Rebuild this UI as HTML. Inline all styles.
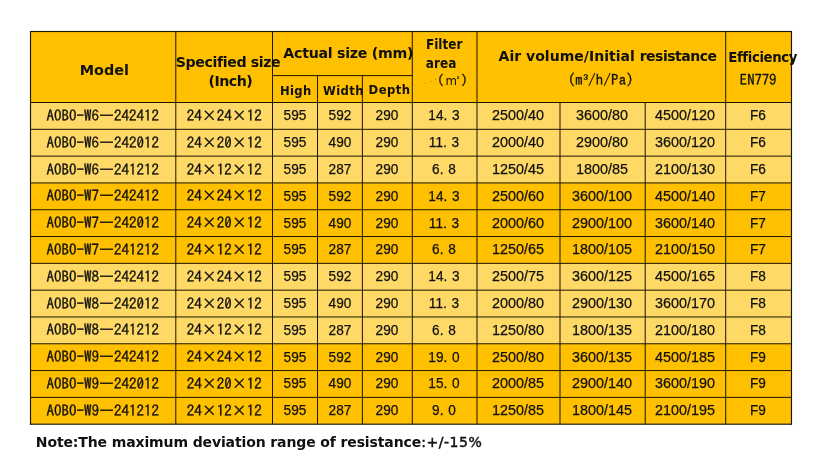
<!DOCTYPE html>
<html lang="en">
<head>
<meta charset="utf-8">
<title>Filter specification table</title>
<style>
html,body{margin:0;padding:0;background:#fff;}
body{width:821px;height:456px;position:relative;overflow:hidden;font-family:"Liberation Sans",sans-serif;color:#101010;}
svg{position:absolute;left:0;top:0;}
#txt{position:absolute;left:0;top:0;width:821px;height:456px;will-change:transform;}
.t{position:absolute;white-space:nowrap;line-height:16px;height:16px;}
.hb{font:bold 14px/16px "DejaVu Sans","Liberation Sans",sans-serif;}
.hs{font:bold 12.9px/16px "DejaVu Sans Condensed","Liberation Sans",sans-serif;}
.hf{font:bold 13.4px/16px "DejaVu Sans Condensed","Liberation Sans",sans-serif;}
.cj{font:14.67px/16px "IPAGothic","Liberation Mono","Noto Sans CJK SC",monospace;-webkit-text-stroke:0.3px #101010;}
.cjp{font:13.4px/16px "IPAGothic","Liberation Mono","Noto Sans CJK SC",monospace;-webkit-text-stroke:0.3px #101010;}
.mono{font:15px/16px "IPAGothic","Liberation Mono","Noto Sans CJK SC",monospace;-webkit-text-stroke:0.3px #101010;}
.num{font:14.6px/16px "Liberation Sans","Noto Sans CJK SC",sans-serif;-webkit-text-stroke:0.25px #101010;transform:scaleX(0.935);}
.grp span{position:absolute;white-space:nowrap;}
.m{font:11.8px/16px "DejaVu Sans","Liberation Sans",sans-serif;}
.sup2{font:bold 8px/16px "Liberation Sans",sans-serif;}
.he{font:bold 13.3px/16px "DejaVu Sans","Liberation Sans",sans-serif;letter-spacing:-0.4px;}
.gap3{display:inline-block;position:relative;width:5.6px;height:16px;vertical-align:top;}
.sup3{position:absolute;left:0.8px;top:-0.2px;font:13.5px/16px "Liberation Sans",sans-serif;-webkit-text-stroke:0.3px #101010;}
.nt{font-weight:normal;letter-spacing:0.5px;-webkit-text-stroke:0.45px #101010;margin-left:0.3px;}
</style>
</head>
<body>
<svg width="821" height="456" viewBox="0 0 821 456">
<rect x="30.5" y="31.5" width="761.0" height="392.7" fill="#FFC000"/>
<rect x="30.5" y="102.50" width="761.0" height="26.81" fill="#FFD966"/>
<rect x="30.5" y="129.31" width="761.0" height="26.81" fill="#FFD966"/>
<rect x="30.5" y="156.12" width="761.0" height="26.81" fill="#FFD966"/>
<rect x="30.5" y="263.35" width="761.0" height="26.81" fill="#FFD966"/>
<rect x="30.5" y="290.16" width="761.0" height="26.81" fill="#FFD966"/>
<rect x="30.5" y="316.97" width="761.0" height="26.81" fill="#FFD966"/>
<rect x="30.00" y="30.93" width="762.00" height="1.15" fill="#1c1606"/>
<rect x="272.50" y="75.10" width="139.80" height="1.0" fill="#1c1606"/>
<rect x="30.50" y="102.00" width="761.00" height="1.0" fill="#1c1606"/>
<rect x="30.50" y="128.81" width="761.00" height="1.0" fill="#1c1606"/>
<rect x="30.50" y="155.62" width="761.00" height="1.0" fill="#1c1606"/>
<rect x="30.50" y="182.43" width="761.00" height="1.0" fill="#1c1606"/>
<rect x="30.50" y="209.23" width="761.00" height="1.0" fill="#1c1606"/>
<rect x="30.50" y="236.04" width="761.00" height="1.0" fill="#1c1606"/>
<rect x="30.50" y="262.85" width="761.00" height="1.0" fill="#1c1606"/>
<rect x="30.50" y="289.66" width="761.00" height="1.0" fill="#1c1606"/>
<rect x="30.50" y="316.47" width="761.00" height="1.0" fill="#1c1606"/>
<rect x="30.50" y="343.27" width="761.00" height="1.0" fill="#1c1606"/>
<rect x="30.50" y="370.08" width="761.00" height="1.0" fill="#1c1606"/>
<rect x="30.50" y="396.89" width="761.00" height="1.0" fill="#1c1606"/>
<rect x="30.00" y="423.62" width="762.00" height="1.15" fill="#1c1606"/>
<rect x="29.93" y="31.00" width="1.15" height="393.70" fill="#1c1606"/>
<rect x="175.30" y="31.50" width="1.0" height="392.70" fill="#1c1606"/>
<rect x="272.00" y="31.50" width="1.0" height="392.70" fill="#1c1606"/>
<rect x="317.00" y="75.60" width="1.0" height="348.60" fill="#1c1606"/>
<rect x="361.90" y="75.60" width="1.0" height="348.60" fill="#1c1606"/>
<rect x="411.80" y="31.50" width="1.0" height="392.70" fill="#1c1606"/>
<rect x="476.50" y="31.50" width="1.0" height="392.70" fill="#1c1606"/>
<rect x="559.50" y="102.50" width="1.0" height="321.70" fill="#1c1606"/>
<rect x="644.70" y="102.50" width="1.0" height="321.70" fill="#1c1606"/>
<rect x="725.20" y="31.50" width="1.0" height="392.70" fill="#1c1606"/>
<rect x="790.92" y="31.00" width="1.15" height="393.70" fill="#1c1606"/>
<circle cx="425.0" cy="83.0" r="0.6" fill="#5a4300" fill-opacity="0.55"/>
<circle cx="430.5" cy="81.5" r="0.6" fill="#5a4300" fill-opacity="0.55"/>
<circle cx="435.6" cy="79.3" r="0.6" fill="#5a4300" fill-opacity="0.55"/>
</svg>
<div id="txt">
<div class="t hb" style="left:79.80px;top:61.50px;font-size:14.4px;">Model</div>
<div class="t hb" style="left:175.70px;top:54.00px;font-size:14.2px;letter-spacing:-0.4px;">Specified size</div>
<div class="t hb" style="left:208.50px;top:73.20px;font-size:14.2px;letter-spacing:-0.52px;">(Inch)</div>
<div class="t hb" style="left:283.30px;top:45.00px;font-size:14.2px;letter-spacing:-0.28px;">Actual size (mm)</div>
<div class="t hs" style="left:280.00px;top:82.90px;letter-spacing:0.3px;">High</div>
<div class="t hs" style="left:323.00px;top:82.90px;letter-spacing:0.4px;">Width</div>
<div class="t hs" style="left:368.60px;top:82.20px;letter-spacing:0.45px;">Depth</div>
<div class="t hf" style="left:426.00px;top:36.80px;">Filter</div>
<div class="t hf" style="left:425.80px;top:55.50px;letter-spacing:0.1px;">area</div>
<div class="t grp" style="left:430.50px;top:71.50px;"><span class="cjp" style="left:0;top:0.2px">（</span><span class="m" style="left:15px;top:1.4px">m</span><span class="sup2" style="left:26.2px;top:0.8px">²</span><span class="cjp" style="left:30.5px;top:0.2px">）</span></div>
<div class="t hb" style="left:498.60px;top:48.10px;letter-spacing:0.02px;">Air volume/Initial <span style="letter-spacing:-0.49px">resistance</span></div>
<div class="t cj" style="left:560.60px;top:71.50px;">（m<span class="gap3"><span class="sup3">³</span></span><span style="letter-spacing:0.3px">/h/Pa</span>）</div>
<div class="t he" style="left:728.30px;top:50.20px;">Efficiency</div>
<div class="t cj" style="left:739.80px;top:71.80px;">EN779</div>
<div class="t mono" style="left:-47.35px;width:300px;text-align:center;top:108.00px;">AOBO-W6—242412</div>
<div class="t mono" style="left:74.15px;width:300px;text-align:center;top:108.00px;">24×24×12</div>
<div class="t num" style="left:145.00px;width:300px;text-align:center;top:107.30px;">595</div>
<div class="t num" style="left:189.95px;width:300px;text-align:center;top:107.30px;">592</div>
<div class="t num" style="left:237.35px;width:300px;text-align:center;top:107.30px;">290</div>
<div class="t num" style="left:293.95px;width:300px;text-align:center;top:107.30px;word-spacing:1.1px;">14. 3</div>
<div class="t num" style="left:367.60px;width:300px;text-align:center;top:107.30px;transform:scaleX(0.985);">2500/40</div>
<div class="t num" style="left:451.70px;width:300px;text-align:center;top:107.30px;transform:scaleX(0.985);">3600/80</div>
<div class="t num" style="left:535.05px;width:300px;text-align:center;top:107.30px;transform:scaleX(0.985);">4500/120</div>
<div class="t num" style="left:608.10px;width:300px;text-align:center;top:107.30px;">F6</div>
<div class="t mono" style="left:-47.35px;width:300px;text-align:center;top:134.81px;">AOBO-W6—242012</div>
<div class="t mono" style="left:74.15px;width:300px;text-align:center;top:134.81px;">24×20×12</div>
<div class="t num" style="left:145.00px;width:300px;text-align:center;top:134.11px;">595</div>
<div class="t num" style="left:189.95px;width:300px;text-align:center;top:134.11px;">490</div>
<div class="t num" style="left:237.35px;width:300px;text-align:center;top:134.11px;">290</div>
<div class="t num" style="left:293.95px;width:300px;text-align:center;top:134.11px;word-spacing:1.1px;">11. 3</div>
<div class="t num" style="left:367.60px;width:300px;text-align:center;top:134.11px;transform:scaleX(0.985);">2000/40</div>
<div class="t num" style="left:451.70px;width:300px;text-align:center;top:134.11px;transform:scaleX(0.985);">2900/80</div>
<div class="t num" style="left:535.05px;width:300px;text-align:center;top:134.11px;transform:scaleX(0.985);">3600/120</div>
<div class="t num" style="left:608.10px;width:300px;text-align:center;top:134.11px;">F6</div>
<div class="t mono" style="left:-47.35px;width:300px;text-align:center;top:161.62px;">AOBO-W6—241212</div>
<div class="t mono" style="left:74.15px;width:300px;text-align:center;top:161.62px;">24×12×12</div>
<div class="t num" style="left:145.00px;width:300px;text-align:center;top:160.92px;">595</div>
<div class="t num" style="left:189.95px;width:300px;text-align:center;top:160.92px;">287</div>
<div class="t num" style="left:237.35px;width:300px;text-align:center;top:160.92px;">290</div>
<div class="t num" style="left:293.95px;width:300px;text-align:center;top:160.92px;word-spacing:1.1px;">6. 8</div>
<div class="t num" style="left:367.60px;width:300px;text-align:center;top:160.92px;transform:scaleX(0.985);">1250/45</div>
<div class="t num" style="left:451.70px;width:300px;text-align:center;top:160.92px;transform:scaleX(0.985);">1800/85</div>
<div class="t num" style="left:535.05px;width:300px;text-align:center;top:160.92px;transform:scaleX(0.985);">2100/130</div>
<div class="t num" style="left:608.10px;width:300px;text-align:center;top:160.92px;">F6</div>
<div class="t mono" style="left:-47.35px;width:300px;text-align:center;top:188.43px;">AOBO-W7—242412</div>
<div class="t mono" style="left:74.15px;width:300px;text-align:center;top:188.43px;">24×24×12</div>
<div class="t num" style="left:145.00px;width:300px;text-align:center;top:187.73px;">595</div>
<div class="t num" style="left:189.95px;width:300px;text-align:center;top:187.73px;">592</div>
<div class="t num" style="left:237.35px;width:300px;text-align:center;top:187.73px;">290</div>
<div class="t num" style="left:293.95px;width:300px;text-align:center;top:187.73px;word-spacing:1.1px;">14. 3</div>
<div class="t num" style="left:367.60px;width:300px;text-align:center;top:187.73px;transform:scaleX(0.985);">2500/60</div>
<div class="t num" style="left:451.70px;width:300px;text-align:center;top:187.73px;transform:scaleX(0.985);">3600/100</div>
<div class="t num" style="left:535.05px;width:300px;text-align:center;top:187.73px;transform:scaleX(0.985);">4500/140</div>
<div class="t num" style="left:608.10px;width:300px;text-align:center;top:187.73px;">F7</div>
<div class="t mono" style="left:-47.35px;width:300px;text-align:center;top:215.24px;">AOBO-W7—242012</div>
<div class="t mono" style="left:74.15px;width:300px;text-align:center;top:215.24px;">24×20×12</div>
<div class="t num" style="left:145.00px;width:300px;text-align:center;top:214.54px;">595</div>
<div class="t num" style="left:189.95px;width:300px;text-align:center;top:214.54px;">490</div>
<div class="t num" style="left:237.35px;width:300px;text-align:center;top:214.54px;">290</div>
<div class="t num" style="left:293.95px;width:300px;text-align:center;top:214.54px;word-spacing:1.1px;">11. 3</div>
<div class="t num" style="left:367.60px;width:300px;text-align:center;top:214.54px;transform:scaleX(0.985);">2000/60</div>
<div class="t num" style="left:451.70px;width:300px;text-align:center;top:214.54px;transform:scaleX(0.985);">2900/100</div>
<div class="t num" style="left:535.05px;width:300px;text-align:center;top:214.54px;transform:scaleX(0.985);">3600/140</div>
<div class="t num" style="left:608.10px;width:300px;text-align:center;top:214.54px;">F7</div>
<div class="t mono" style="left:-47.35px;width:300px;text-align:center;top:242.05px;">AOBO-W7—241212</div>
<div class="t mono" style="left:74.15px;width:300px;text-align:center;top:242.05px;">24×12×12</div>
<div class="t num" style="left:145.00px;width:300px;text-align:center;top:241.35px;">595</div>
<div class="t num" style="left:189.95px;width:300px;text-align:center;top:241.35px;">287</div>
<div class="t num" style="left:237.35px;width:300px;text-align:center;top:241.35px;">290</div>
<div class="t num" style="left:293.95px;width:300px;text-align:center;top:241.35px;word-spacing:1.1px;">6. 8</div>
<div class="t num" style="left:367.60px;width:300px;text-align:center;top:241.35px;transform:scaleX(0.985);">1250/65</div>
<div class="t num" style="left:451.70px;width:300px;text-align:center;top:241.35px;transform:scaleX(0.985);">1800/105</div>
<div class="t num" style="left:535.05px;width:300px;text-align:center;top:241.35px;transform:scaleX(0.985);">2100/150</div>
<div class="t num" style="left:608.10px;width:300px;text-align:center;top:241.35px;">F7</div>
<div class="t mono" style="left:-47.35px;width:300px;text-align:center;top:268.85px;">AOBO-W8—242412</div>
<div class="t mono" style="left:74.15px;width:300px;text-align:center;top:268.85px;">24×24×12</div>
<div class="t num" style="left:145.00px;width:300px;text-align:center;top:268.15px;">595</div>
<div class="t num" style="left:189.95px;width:300px;text-align:center;top:268.15px;">592</div>
<div class="t num" style="left:237.35px;width:300px;text-align:center;top:268.15px;">290</div>
<div class="t num" style="left:293.95px;width:300px;text-align:center;top:268.15px;word-spacing:1.1px;">14. 3</div>
<div class="t num" style="left:367.60px;width:300px;text-align:center;top:268.15px;transform:scaleX(0.985);">2500/75</div>
<div class="t num" style="left:451.70px;width:300px;text-align:center;top:268.15px;transform:scaleX(0.985);">3600/125</div>
<div class="t num" style="left:535.05px;width:300px;text-align:center;top:268.15px;transform:scaleX(0.985);">4500/165</div>
<div class="t num" style="left:608.10px;width:300px;text-align:center;top:268.15px;">F8</div>
<div class="t mono" style="left:-47.35px;width:300px;text-align:center;top:295.66px;">AOBO-W8—242012</div>
<div class="t mono" style="left:74.15px;width:300px;text-align:center;top:295.66px;">24×20×12</div>
<div class="t num" style="left:145.00px;width:300px;text-align:center;top:294.96px;">595</div>
<div class="t num" style="left:189.95px;width:300px;text-align:center;top:294.96px;">490</div>
<div class="t num" style="left:237.35px;width:300px;text-align:center;top:294.96px;">290</div>
<div class="t num" style="left:293.95px;width:300px;text-align:center;top:294.96px;word-spacing:1.1px;">11. 3</div>
<div class="t num" style="left:367.60px;width:300px;text-align:center;top:294.96px;transform:scaleX(0.985);">2000/80</div>
<div class="t num" style="left:451.70px;width:300px;text-align:center;top:294.96px;transform:scaleX(0.985);">2900/130</div>
<div class="t num" style="left:535.05px;width:300px;text-align:center;top:294.96px;transform:scaleX(0.985);">3600/170</div>
<div class="t num" style="left:608.10px;width:300px;text-align:center;top:294.96px;">F8</div>
<div class="t mono" style="left:-47.35px;width:300px;text-align:center;top:322.47px;">AOBO-W8—241212</div>
<div class="t mono" style="left:74.15px;width:300px;text-align:center;top:322.47px;">24×12×12</div>
<div class="t num" style="left:145.00px;width:300px;text-align:center;top:321.77px;">595</div>
<div class="t num" style="left:189.95px;width:300px;text-align:center;top:321.77px;">287</div>
<div class="t num" style="left:237.35px;width:300px;text-align:center;top:321.77px;">290</div>
<div class="t num" style="left:293.95px;width:300px;text-align:center;top:321.77px;word-spacing:1.1px;">6. 8</div>
<div class="t num" style="left:367.60px;width:300px;text-align:center;top:321.77px;transform:scaleX(0.985);">1250/80</div>
<div class="t num" style="left:451.70px;width:300px;text-align:center;top:321.77px;transform:scaleX(0.985);">1800/135</div>
<div class="t num" style="left:535.05px;width:300px;text-align:center;top:321.77px;transform:scaleX(0.985);">2100/180</div>
<div class="t num" style="left:608.10px;width:300px;text-align:center;top:321.77px;">F8</div>
<div class="t mono" style="left:-47.35px;width:300px;text-align:center;top:349.28px;">AOBO-W9—242412</div>
<div class="t mono" style="left:74.15px;width:300px;text-align:center;top:349.28px;">24×24×12</div>
<div class="t num" style="left:145.00px;width:300px;text-align:center;top:348.58px;">595</div>
<div class="t num" style="left:189.95px;width:300px;text-align:center;top:348.58px;">592</div>
<div class="t num" style="left:237.35px;width:300px;text-align:center;top:348.58px;">290</div>
<div class="t num" style="left:293.95px;width:300px;text-align:center;top:348.58px;word-spacing:1.1px;">19. 0</div>
<div class="t num" style="left:367.60px;width:300px;text-align:center;top:348.58px;transform:scaleX(0.985);">2500/80</div>
<div class="t num" style="left:451.70px;width:300px;text-align:center;top:348.58px;transform:scaleX(0.985);">3600/135</div>
<div class="t num" style="left:535.05px;width:300px;text-align:center;top:348.58px;transform:scaleX(0.985);">4500/185</div>
<div class="t num" style="left:608.10px;width:300px;text-align:center;top:348.58px;">F9</div>
<div class="t mono" style="left:-47.35px;width:300px;text-align:center;top:376.09px;">AOBO-W9—242012</div>
<div class="t mono" style="left:74.15px;width:300px;text-align:center;top:376.09px;">24×20×12</div>
<div class="t num" style="left:145.00px;width:300px;text-align:center;top:375.39px;">595</div>
<div class="t num" style="left:189.95px;width:300px;text-align:center;top:375.39px;">490</div>
<div class="t num" style="left:237.35px;width:300px;text-align:center;top:375.39px;">290</div>
<div class="t num" style="left:293.95px;width:300px;text-align:center;top:375.39px;word-spacing:1.1px;">15. 0</div>
<div class="t num" style="left:367.60px;width:300px;text-align:center;top:375.39px;transform:scaleX(0.985);">2000/85</div>
<div class="t num" style="left:451.70px;width:300px;text-align:center;top:375.39px;transform:scaleX(0.985);">2900/140</div>
<div class="t num" style="left:535.05px;width:300px;text-align:center;top:375.39px;transform:scaleX(0.985);">3600/190</div>
<div class="t num" style="left:608.10px;width:300px;text-align:center;top:375.39px;">F9</div>
<div class="t mono" style="left:-47.35px;width:300px;text-align:center;top:402.90px;">AOBO-W9—241212</div>
<div class="t mono" style="left:74.15px;width:300px;text-align:center;top:402.90px;">24×12×12</div>
<div class="t num" style="left:145.00px;width:300px;text-align:center;top:402.20px;">595</div>
<div class="t num" style="left:189.95px;width:300px;text-align:center;top:402.20px;">287</div>
<div class="t num" style="left:237.35px;width:300px;text-align:center;top:402.20px;">290</div>
<div class="t num" style="left:293.95px;width:300px;text-align:center;top:402.20px;word-spacing:1.1px;">9. 0</div>
<div class="t num" style="left:367.60px;width:300px;text-align:center;top:402.20px;transform:scaleX(0.985);">1250/85</div>
<div class="t num" style="left:451.70px;width:300px;text-align:center;top:402.20px;transform:scaleX(0.985);">1800/145</div>
<div class="t num" style="left:535.05px;width:300px;text-align:center;top:402.20px;transform:scaleX(0.985);">2100/195</div>
<div class="t num" style="left:608.10px;width:300px;text-align:center;top:402.20px;">F9</div>
<div class="t hb note" style="left:35.80px;top:434.00px;letter-spacing:-0.12px;">Note:The maximum deviation range of resistance<span class="nt">:+/-15%</span></div>
</div>
</body>
</html>
